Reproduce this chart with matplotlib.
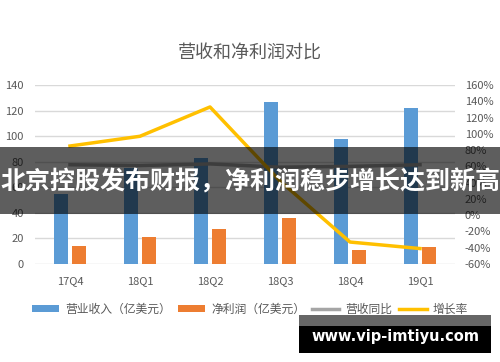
import numpy as np
import matplotlib.pyplot as plt
from matplotlib.patches import Rectangle
from matplotlib.ticker import FuncFormatter

plt.rcParams['font.family'] = ['Noto Sans CJK SC', 'DejaVu Sans']

# 数据
categories = ['17Q4', '18Q1', '18Q2', '18Q3', '18Q4', '19Q1']
revenue = [55, 75, 83, 127, 98, 122]        # 营业收入（亿美元）
net_profit = [14, 21, 27, 36, 11, 13]       # 净利润（亿美元）
revenue_yoy = [62, 61, 63, 59, 60, 62]      # 营收同比 (%)
growth_rate = [85, 97, 133, 42, -33, -41]   # 增长率 (%)

grey_txt = '#595959'

fig = plt.figure(figsize=(5, 3.62), dpi=100)
ax = fig.add_axes([0.07, 0.2707, 0.84, 0.4945])
x = np.arange(len(categories))

ax.bar(x - 0.13, revenue, width=0.2, color='#5B9BD5', label='营业收入（亿美元）', zorder=3)
ax.bar(x + 0.13, net_profit, width=0.2, color='#ED7D31', label='净利润（亿美元）', zorder=3)
ax.set_ylim(0, 140)
ax.set_yticks(range(0, 141, 20))
ax.set_xlim(-0.5, len(categories) - 0.5)
ax.set_xticks(x)
ax.set_xticklabels(categories)
ax.grid(axis='y', color='#d9d9d9', linewidth=1, zorder=0)
ax.tick_params(length=0, colors=grey_txt, labelsize=8)
ax.tick_params(axis='x', pad=9)
ax.tick_params(axis='y', pad=8)
for s in ax.spines.values():
    s.set_visible(False)

ax2 = ax.twinx()
ax2.plot(x, revenue_yoy, color='#A5A5A5', linewidth=2.5, label='营收同比')
ax2.plot(x, growth_rate, color='#FFC000', linewidth=2.5, label='增长率')
ax2.set_ylim(-60, 160)
ax2.set_yticks(range(-60, 161, 20))
ax2.yaxis.set_major_formatter(FuncFormatter(lambda v, p: f'{v:.0f}%'))
ax2.tick_params(length=0, colors=grey_txt, labelsize=8, pad=7)
for s in ax2.spines.values():
    s.set_visible(False)

fig.text(0.5, 1 - 54 / 362, '营收和净利润对比', ha='center', va='center',
         fontsize=13, color=grey_txt)

h1, l1 = ax.get_legend_handles_labels()
h2, l2 = ax2.get_legend_handles_labels()
fig.legend(h1 + h2, l1 + l2, loc='center', bbox_to_anchor=(0.5, 1 - 309 / 362),
           ncol=4, frameon=False, fontsize=8.5, labelcolor=grey_txt,
           handlelength=2.3, handleheight=0.6, handletextpad=0.5, columnspacing=0.6)

# 半透明标题横幅
fig.patches.append(Rectangle((0, 1 - 214 / 362), 1, 67 / 362, transform=fig.transFigure,
                             facecolor='black', alpha=0.63, zorder=10))
fig.text(0.5, 1 - 182 / 362, '北京控股发布财报，净利润稳步增长达到新高', ha='center', va='center',
         fontsize=18, fontweight='bold', color='white', zorder=11)

# 网址水印
fig.patches.append(Rectangle((299 / 500, 1 - 326 / 362), 192 / 500, 11 / 362,
                             transform=fig.transFigure, facecolor='#666666', zorder=10))
fig.patches.append(Rectangle((299 / 500, 1 - 353 / 362), 192 / 500, 27 / 362,
                             transform=fig.transFigure, facecolor='black', zorder=10))
fig.text(395 / 500, 1 - 337 / 362, 'www.vip-imtiyu.com', ha='center', va='center',
         fontsize=10.5, fontweight='bold', color='white', family=['DejaVu Sans'], zorder=11)

fig.savefig('out.png', dpi=100)
